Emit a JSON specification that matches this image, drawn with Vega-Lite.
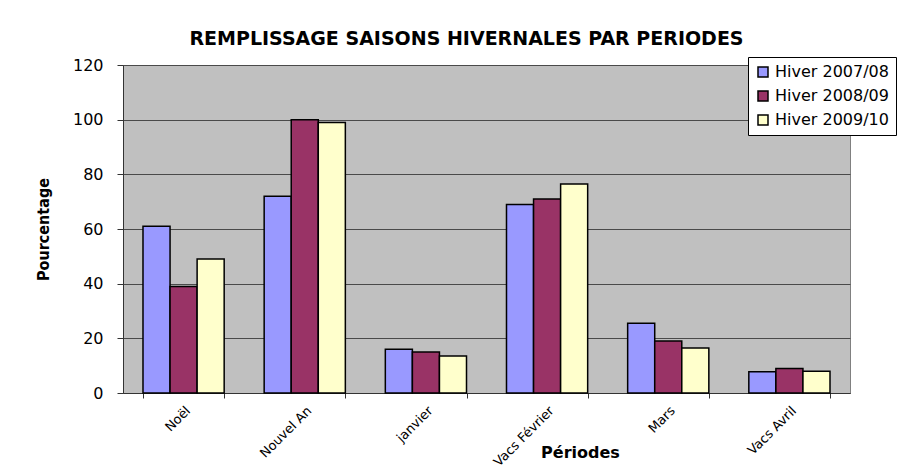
{
  "$schema": "https://vega.github.io/schema/vega-lite/v6.json",
  "width": 727,
  "height": 328,
  "autosize": "none",
  "padding": {"left": 123, "top": 65, "right": 60, "bottom": 81},
  "background": "white",
  "title": {
    "text": "REMPLISSAGE SAISONS HIVERNALES PAR PERIODES",
    "font": "DejaVu Sans",
    "fontSize": 19,
    "fontWeight": "bold",
    "color": "black",
    "anchor": "middle",
    "dx": -20,
    "offset": 8
  },
  "data": {
    "values": [
      {"periode": "Noël", "saison": "Hiver 2007/08", "pct": 61},
      {"periode": "Noël", "saison": "Hiver 2008/09", "pct": 39},
      {"periode": "Noël", "saison": "Hiver 2009/10", "pct": 49},
      {"periode": "Nouvel An", "saison": "Hiver 2007/08", "pct": 72},
      {"periode": "Nouvel An", "saison": "Hiver 2008/09", "pct": 100},
      {"periode": "Nouvel An", "saison": "Hiver 2009/10", "pct": 99},
      {"periode": "janvier", "saison": "Hiver 2007/08", "pct": 16},
      {"periode": "janvier", "saison": "Hiver 2008/09", "pct": 15},
      {"periode": "janvier", "saison": "Hiver 2009/10", "pct": 13.5},
      {"periode": "Vacs Février", "saison": "Hiver 2007/08", "pct": 69},
      {"periode": "Vacs Février", "saison": "Hiver 2008/09", "pct": 71},
      {"periode": "Vacs Février", "saison": "Hiver 2009/10", "pct": 76.5},
      {"periode": "Mars", "saison": "Hiver 2007/08", "pct": 25.5},
      {"periode": "Mars", "saison": "Hiver 2008/09", "pct": 19},
      {"periode": "Mars", "saison": "Hiver 2009/10", "pct": 16.5},
      {"periode": "Vacs Avril", "saison": "Hiver 2007/08", "pct": 7.8},
      {"periode": "Vacs Avril", "saison": "Hiver 2008/09", "pct": 9},
      {"periode": "Vacs Avril", "saison": "Hiver 2009/10", "pct": 8}
    ]
  },
  "mark": {"type": "bar", "stroke": "black", "strokeWidth": 1.5},
  "encoding": {
    "x": {
      "field": "periode",
      "type": "nominal",
      "sort": ["Noël", "Nouvel An", "janvier", "Vacs Février", "Mars", "Vacs Avril"],
      "scale": {"paddingInner": 0.33, "paddingOuter": 0.165},
      "axis": {
        "title": "Périodes",
        "titleFont": "DejaVu Sans",
        "titleFontSize": 16,
        "titleFontWeight": "bold",
        "titleColor": "black",
        "titleX": 457,
        "titleY": 64,
        "titleBaseline": "alphabetic",
        "labelAngle": -45,
        "labelFont": "DejaVu Sans",
        "labelFontSize": 13,
        "labelColor": "black",
        "labelPadding": 6,
        "tickBand": "extent",
        "tickColor": "#333",
        "tickSize": 5,
        "domainColor": "#333",
        "grid": false
      }
    },
    "xOffset": {
      "field": "saison",
      "type": "nominal",
      "scale": {"paddingInner": 0, "paddingOuter": 0}
    },
    "y": {
      "field": "pct",
      "type": "quantitative",
      "scale": {"domain": [0, 120], "nice": false},
      "axis": {
        "title": "Pourcentage",
        "titleFont": "DejaVu Sans Condensed, DejaVu Sans",
        "titleFontSize": 16,
        "titleFontWeight": "bold",
        "titleColor": "black",
        "titleX": -72,
        "values": [0, 20, 40, 60, 80, 100, 120],
        "labelFont": "DejaVu Sans",
        "labelFontSize": 16,
        "labelColor": "black",
        "labelPadding": 14,
        "tickColor": "#333",
        "tickSize": 6,
        "domainColor": "#333",
        "grid": true,
        "gridColor": "#4a4a4a",
        "gridWidth": 1.2
      }
    },
    "color": {
      "field": "saison",
      "type": "nominal",
      "scale": {
        "domain": ["Hiver 2007/08", "Hiver 2008/09", "Hiver 2009/10"],
        "range": ["#9999FF", "#993366", "#FFFFCC"]
      },
      "legend": {
        "title": null,
        "orient": "none",
        "legendX": 625,
        "legendY": -8,
        "fillColor": "white",
        "strokeColor": "black",
        "padding": 7,
        "rowPadding": 8,
        "symbolType": "square",
        "symbolSize": 100,
        "symbolStrokeColor": "black",
        "symbolStrokeWidth": 1.5,
        "labelFont": "DejaVu Sans",
        "labelFontSize": 16,
        "labelColor": "black",
        "labelOffset": 4
      }
    }
  },
  "config": {
    "view": {"fill": "#C0C0C0", "stroke": "#808080"},
    "axis": {"labelOverlap": false}
  }
}
